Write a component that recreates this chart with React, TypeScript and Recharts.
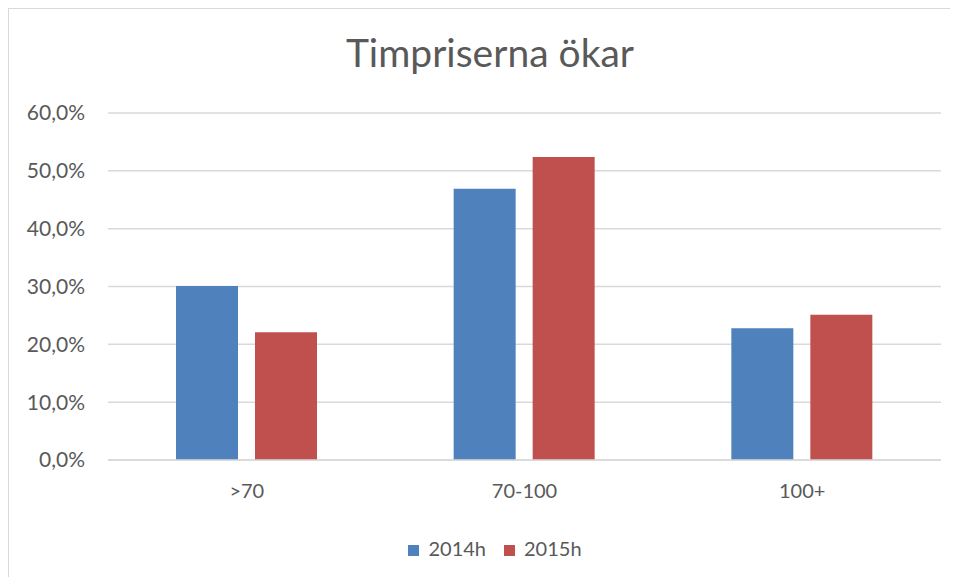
import { BarChart, Bar, XAxis, YAxis, CartesianGrid, Legend } from 'recharts';

const categories = ['>70', '70-100', '100+'];
const values2014 = [30.1, 46.9, 22.8];
const values2015 = [22.1, 52.4, 25.1];
const yTicks = [0, 10, 20, 30, 40, 50, 60];

const data = categories.map((name, i) => ({
  name,
  '2014h': values2014[i],
  '2015h': values2015[i],
}));

const textColor = '#595959';
const font = 'Lato, "Open Sans", sans-serif';

const fmt = (v: number) => v.toFixed(1).replace('.', ',') + '%';

export default function App() {
  return (
    <div
      style={{
        position: 'relative',
        width: 950,
        height: 569,
        borderLeft: '1px solid #D9D9D9',
        borderTop: '1px solid #D9D9D9',
        boxSizing: 'border-box',
        fontFamily: font,
        background: '#fff',
      }}
    >
      <div
        style={{
          position: 'absolute',
          top: 20,
          left: 0,
          width: 962,
          textAlign: 'center',
          fontSize: 39,
          color: textColor,
          fontFamily: font,
        }}
      >
        Timpriserna ökar
      </div>
      <BarChart
        width={949}
        height={568}
        data={data}
        margin={{ top: 104, right: 17, left: 10, bottom: 17 }}
        barSize={62}
        barGap={17}
      >
        <CartesianGrid vertical={false} stroke="#D9D9D9" strokeWidth={1.5} />
        <XAxis
          dataKey="name"
          axisLine={{ stroke: '#D9D9D9', strokeWidth: 1.5 }}
          tickLine={false}
          tickSize={6}
          tickMargin={18}
          height={76}
          tick={{ fill: textColor, fontSize: 20, fontFamily: font }}
        />
        <YAxis
          width={89}
          domain={[0, 60]}
          ticks={yTicks}
          tickFormatter={fmt}
          axisLine={false}
          tickLine={false}
          tickSize={6}
          tickMargin={17}
          tick={{ fill: textColor, fontSize: 21, fontFamily: font }}
        />
        <Legend
          verticalAlign="bottom"
          align="center"
          iconType="square"
          iconSize={11}
          wrapperStyle={{ paddingLeft: 24, fontSize: 20, fontFamily: font }}
          formatter={(value: string) => (
            <span style={{ color: textColor, paddingLeft: 5, paddingRight: 8 }}>{value}</span>
          )}
        />
        <Bar dataKey="2014h" fill="#4F81BD" isAnimationActive={false} />
        <Bar dataKey="2015h" fill="#C0504D" isAnimationActive={false} />
      </BarChart>
    </div>
  );
}
